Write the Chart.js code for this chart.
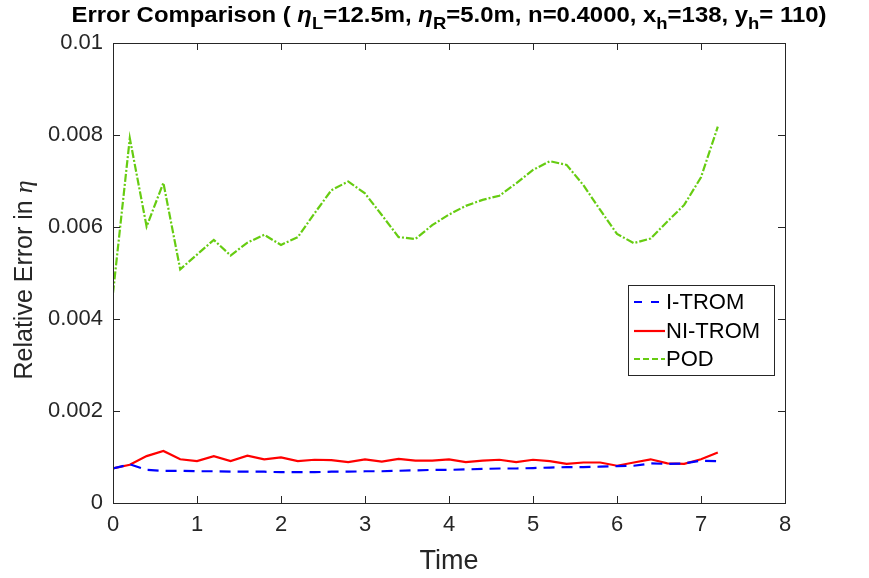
<!DOCTYPE html>
<html>
<head>
<meta charset="utf-8">
<script src="https://cdn.jsdelivr.net/npm/chart.js@4.4.1/dist/chart.umd.min.js"></script>
<style>
  html,body{margin:0;padding:0;background:#fff;}
  #wrap{width:869px;height:578px;}
</style>
</head>
<body>
<div id="wrap"><canvas id="errChart" width="869" height="578"></canvas></div>
<script>
// time samples (every 0.2)
const times = [0,0.2,0.4,0.6,0.8,1.0,1.2,1.4,1.6,1.8,2.0,2.2,2.4,2.6,2.8,3.0,3.2,3.4,3.6,3.8,4.0,
  4.2,4.4,4.6,4.8,5.0,5.2,5.4,5.6,5.8,6.0,6.2,6.4,6.6,6.8,7.0,7.2];

// relative errors, in units of 1e-3
const iTrom = [0.75,0.84,0.72,0.70,0.70,0.69,0.69,0.68,0.68,0.68,0.67,0.67,0.67,0.68,0.68,0.69,0.69,0.70,0.71,0.72,0.72,
  0.73,0.74,0.75,0.75,0.76,0.77,0.78,0.78,0.79,0.80,0.81,0.86,0.85,0.86,0.92,0.91];

const niTrom = [0.75,0.83,1.02,1.13,0.95,0.91,1.02,0.91,1.03,0.95,0.99,0.91,0.94,0.93,0.89,0.95,0.90,0.96,0.92,0.92,0.95,
  0.89,0.92,0.94,0.89,0.94,0.91,0.85,0.88,0.88,0.81,0.88,0.95,0.86,0.85,0.95,1.10];

const pod = [4.56,7.93,6.01,6.96,5.08,5.40,5.72,5.38,5.66,5.83,5.61,5.78,6.30,6.80,6.99,6.73,6.26,5.78,5.74,6.04,6.27,
  6.46,6.59,6.68,6.95,7.24,7.43,7.35,6.91,6.37,5.85,5.65,5.75,6.12,6.48,7.08,8.18];

const xTicks = [0,1,2,3,4,5,6,7,8];
const yTicks = [0,0.002,0.004,0.006,0.008,0.01];

const FONT = "'Liberation Sans', Arial, Helvetica, sans-serif";
const toPts = (arr) => arr.map((v,i)=>({x:times[i], y:v/1000}));

// title with subscripts, y label, box, inward ticks and legend
const matlabLook = {
  id:'matlabLook',
  afterDraw(chart){
    const ctx = chart.ctx;
    const a = chart.chartArea;
    const xs = chart.scales.x, ys = chart.scales.y;
    ctx.save();
    // box
    ctx.strokeStyle = '#262626';
    ctx.lineWidth = 1;
    ctx.strokeRect(a.left+0.5, a.top+0.5, a.right-a.left, a.bottom-a.top);
    // inward ticks
    ctx.beginPath();
    xTicks.forEach(t=>{
      const px = Math.round(xs.getPixelForValue(t))+0.5;
      ctx.moveTo(px,a.bottom); ctx.lineTo(px,a.bottom-7);
      ctx.moveTo(px,a.top); ctx.lineTo(px,a.top+7);
    });
    yTicks.forEach(t=>{
      const py = Math.round(ys.getPixelForValue(t))+0.5;
      ctx.moveTo(a.left,py); ctx.lineTo(a.left+7,py);
      ctx.moveTo(a.right,py); ctx.lineTo(a.right-7,py);
    });
    ctx.stroke();

    // title, fitted to the reference width
    const parts = [
      ['Error Comparison ( ', 'n'], ['\u03b7', 'i'], ['L', 's'], ['=12.5m, ', 'n'],
      ['\u03b7', 'i'], ['R', 's'], ['=5.0m, n=0.4000, x', 'n'], ['h', 's'],
      ['=138, y', 'n'], ['h', 's'], ['= 110)', 'n']
    ];
    const fs = 22;
    const fontFor = k => k==='i' ? 'italic bold '+fs+'px '+FONT : (k==='s' ? 'bold '+Math.round(fs*0.78)+'px '+FONT : 'bold '+fs+'px '+FONT);
    let total = 0;
    parts.forEach(p=>{ ctx.font = fontFor(p[1]); total += ctx.measureText(p[0]).width; });
    const sx = 755/total;
    ctx.translate(449 - 755/2, 0);
    ctx.scale(sx, 1);
    let x = 0;
    const base = 22;
    ctx.fillStyle = '#000';
    ctx.textBaseline = 'alphabetic';
    ctx.textAlign = 'left';
    parts.forEach(p=>{
      ctx.font = fontFor(p[1]);
      ctx.fillText(p[0], x, p[1]==='s' ? base+7 : base);
      x += ctx.measureText(p[0]).width;
    });
    ctx.setTransform(1,0,0,1,0,0);

    // y axis label with italic eta
    ctx.save();
    ctx.translate(25, 280);
    ctx.rotate(-Math.PI/2);
    ctx.textBaseline = 'middle';
    const s1 = 'Relative Error in ', s2 = '\u03b7';
    ctx.font = '25px '+FONT;
    const w1 = ctx.measureText(s1).width;
    ctx.font = 'italic 26px "Liberation Serif", "DejaVu Serif", serif';
    const w2 = ctx.measureText(s2).width;
    let yx = -(w1+w2)/2;
    ctx.fillStyle = '#262626';
    ctx.font = '25px '+FONT;
    ctx.fillText(s1, yx, 0);
    ctx.font = 'italic 26px "Liberation Serif", "DejaVu Serif", serif';
    ctx.fillText(s2, yx+w1, 0);
    ctx.restore();

    // legend
    const lx = 628, ly = 285, lw = 146, lh = 90;
    ctx.fillStyle = '#fff';
    ctx.fillRect(lx, ly, lw, lh);
    ctx.strokeStyle = '#262626';
    ctx.lineWidth = 1;
    ctx.strokeRect(lx+0.5, ly+0.5, lw, lh);
    const rows = [302, 331, 359];
    chart.data.datasets.forEach((ds,i)=>{
      const y = rows[i];
      ctx.beginPath();
      ctx.strokeStyle = ds.borderColor;
      ctx.lineWidth = 2.2;
      ctx.setLineDash(ds.legendDash || []);
      ctx.moveTo(lx+6, y); ctx.lineTo(lx+37, y);
      ctx.stroke();
      ctx.setLineDash([]);
      ctx.fillStyle = '#000';
      ctx.font = '22px '+FONT;
      ctx.textBaseline = 'middle';
      ctx.fillText(ds.label, lx+38, y+1);
    });
    ctx.restore();
  }
};

new Chart(document.getElementById('errChart'), {
  type:'line',
  data:{
    datasets:[
      {label:'I-TROM', data:toPts(iTrom), borderColor:'#0000ff', borderWidth:2.2, borderDash:[11,7], legendDash:[8,9], pointRadius:0, tension:0},
      {label:'NI-TROM', data:toPts(niTrom), borderColor:'#ff0000', borderWidth:2.2, pointRadius:0, tension:0},
      {label:'POD', data:toPts(pod), borderColor:'#66cc11', borderWidth:2.2, borderDash:[8,2,2,2], legendDash:[6,3], pointRadius:0, tension:0}
    ]
  },
  options:{
    responsive:false,
    animation:false,
    layout:{padding:{left:0, right:84, top:43, bottom:0}},
    plugins:{legend:{display:false}, title:{display:false}, tooltip:{enabled:false}},
    scales:{
      x:{
        type:'linear', min:0, max:8,
        afterBuildTicks: s => { s.ticks = xTicks.map(v=>({value:v})); },
        afterFit: s => { s.height = 75; },
        grid:{display:false, drawTicks:false},
        border:{display:false},
        ticks:{color:'#262626', font:{family:FONT, size:22}, padding:9, maxRotation:0},
        title:{display:true, text:'Time', color:'#262626', font:{family:FONT, size:27}, padding:{top:0, bottom:0}}
      },
      y:{
        type:'linear', min:0, max:0.01,
        afterBuildTicks: s => { s.ticks = yTicks.map(v=>({value:v})); },
        afterFit: s => { s.width = 113; },
        grid:{display:false, drawTicks:false},
        border:{display:false},
        ticks:{color:'#262626', font:{family:FONT, size:22}, padding:10, callback: v => String(+v.toFixed(3))},
        title:{display:false}
      }
    }
  },
  plugins:[matlabLook]
});
</script>
</body>
</html>
